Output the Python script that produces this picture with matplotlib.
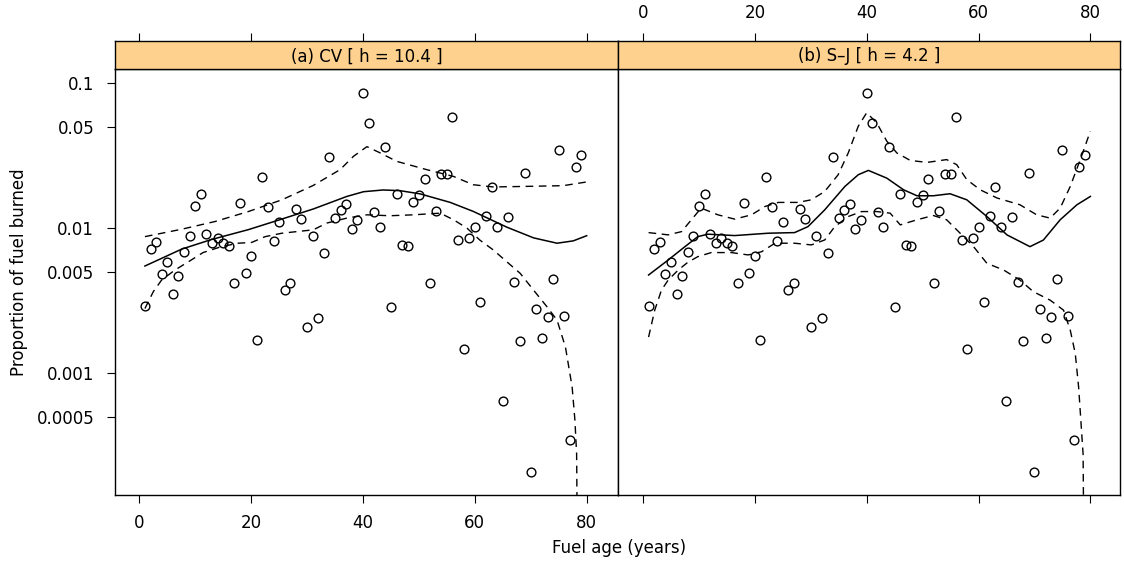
import matplotlib
matplotlib.use("Agg")
import matplotlib.pyplot as plt
import numpy as np

plt.rcParams['font.family'] = ['DejaVu Sans']

# ---- data -------------------------------------------------------------
age = list(range(1, 80))
burned = [0.0029, 0.0072, 0.0080, 0.00484, 0.00586, 0.00354, 0.00467, 0.0069, 0.0089, 0.0142,
          0.0173, 0.0091, 0.0079, 0.0086, 0.0079, 0.0075, 0.0042, 0.0149, 0.0049, 0.0064,
          0.0017, 0.0225, 0.0141, 0.0082, 0.0111, 0.00375, 0.0042, 0.0136, 0.0116, 0.0021,
          0.0089, 0.0024, 0.0068, 0.0311, 0.0118, 0.0134, 0.0148, 0.0099, 0.0115, 0.0853,
          0.0531, 0.0129, 0.0103, 0.0365, 0.00285, 0.0173, 0.0077, 0.0075, 0.0152, 0.0171,
          0.0220, 0.0042, 0.0131, 0.0237, 0.0237, 0.0585, 0.0083, 0.00148, 0.0086, 0.0102,
          0.0031, 0.0121, 0.0192, 0.0102, 0.00064, 0.0119, 0.0043, 0.00167, 0.0240, 0.00021,
          0.00276, 0.00176, 0.00246, 0.00445, 0.0346, 0.00249, 0.00035, 0.0266, 0.0319]

# (a) CV fit
cv_fit_x = [1, 7.6, 13, 19.5, 25.2, 31.1, 37.1, 40.1, 43.6, 46.6, 50.2, 55.6, 59.7, 65.7, 70.5, 74.7, 77.6, 80]
cv_fit_y = [0.0055, 0.0072, 0.0084, 0.0098, 0.0115, 0.0136, 0.0166, 0.0179, 0.0184, 0.0182,
            0.0173, 0.0151, 0.0131, 0.0102, 0.0086, 0.0079, 0.0082, 0.0089]
cv_up_x = [1, 7.6, 13.5, 19.5, 25.5, 31.1, 35.9, 38.3, 40.7, 43.1, 46.0, 51.4, 56.2, 59.7, 63.3, 68.7, 75.8, 80]
cv_up_y = [0.00877, 0.00987, 0.01114, 0.01306, 0.01574, 0.01977, 0.0254, 0.0314, 0.0366, 0.0331,
           0.0290, 0.0254, 0.0228, 0.0200, 0.0193, 0.01946, 0.0197, 0.0209]
cv_lo_x = [1, 2.5, 4.0, 6.4, 9.1, 11.4, 14.7, 17.7, 20.1, 22.5, 25.5, 31.1, 33.5, 37.1, 40.7, 44.8,
           49.0, 53.8, 56.2, 58.6, 60.9, 63.3, 65.7, 68.1, 70.5, 72.9, 74.7, 76.2, 77.4, 77.9, 78.2, 78.5]
cv_lo_y = [0.0028, 0.00366, 0.00441, 0.00517, 0.00599, 0.00681, 0.00749, 0.0079, 0.0080, 0.00877,
           0.00926, 0.00977, 0.01087, 0.01177, 0.0124, 0.01222, 0.0124, 0.01273, 0.01146, 0.01003,
           0.0083, 0.0071, 0.00589, 0.0049, 0.00375, 0.00288, 0.00233, 0.00152, 0.000804, 0.000473,
           0.000278, 0.00001]

# (b) S-J fit
sj_fit_x = [1.0, 4.5, 7.5, 9.8, 11.6, 16.4, 22.4, 27.1, 29.5, 32.5, 36.1, 38.5, 40.3, 43.6, 46.6,
            49.0, 51.9, 54.9, 57.9, 61.5, 65.1, 69.2, 71.6, 74.6, 77.6, 80.0]
sj_fit_y = [0.00477, 0.00605, 0.00748, 0.00877, 0.00912, 0.00892, 0.00926, 0.00935, 0.01028, 0.01342,
            0.01945, 0.02344, 0.0251, 0.0222, 0.01845, 0.01678, 0.01678, 0.01733, 0.01574, 0.01207,
            0.00901, 0.00748, 0.00831, 0.01146, 0.01455, 0.0166]
sj_up_x = [1.0, 4.5, 6.9, 8.9, 10.4, 13.4, 16.4, 19.4, 21.8, 24.2, 27.7, 30.1, 32.5, 34.9, 36.7, 38.5,
           40.0, 41.8, 43.6, 45.4, 47.8, 50.8, 54.3, 56.1, 57.9, 60.3, 63.3, 67.4, 70.4, 72.8, 74.6,
           76.4, 78.2, 80.0]
sj_up_y = [0.00935, 0.00902, 0.0095, 0.01177, 0.0138, 0.0124, 0.01158, 0.0124, 0.01415, 0.0151,
           0.0151, 0.01574, 0.01797, 0.02344, 0.0331, 0.0507, 0.0627, 0.0534, 0.0399, 0.0331,
           0.0294, 0.0285, 0.0298, 0.0275, 0.0217, 0.01845, 0.0162, 0.01455, 0.0124, 0.01177,
           0.0138, 0.01945, 0.0298, 0.0468]
sj_lo_x = [1.0, 2.1, 3.3, 4.5, 6.3, 8.0, 9.8, 12.2, 15.8, 18.8, 21.2, 23.6, 27.1, 30.1, 32.5, 34.3,
           36.7, 39.1, 41.8, 44.2, 46.0, 49.0, 51.9, 54.3, 56.7, 59.1, 61.5, 64.5, 67.4, 69.8, 72.8,
           75.2, 76.4, 77.3, 77.9, 78.3, 78.7, 79.0]
sj_lo_y = [0.00178, 0.00273, 0.00375, 0.0044, 0.00516, 0.00583, 0.00638, 0.00681, 0.00681, 0.00656,
           0.0069, 0.0079, 0.0079, 0.00769, 0.00832, 0.01028, 0.01207, 0.01306, 0.01306, 0.01273,
           0.01057, 0.01146, 0.01227, 0.01146, 0.00927, 0.00749, 0.00574, 0.00516, 0.0044, 0.00366,
           0.0032, 0.00273, 0.00199, 0.00137, 0.000804, 0.000473, 0.000278, 0.00001]

titles = ["(a) CV [ h = 10.4 ]", "(b) S\u2013J [ h = 4.2 ]"]
x_ticks = [0, 20, 40, 60, 80]
y_ticks = [0.0005, 0.001, 0.005, 0.01, 0.05, 0.1]
y_ticklabels = ["0.0005", "0.001", "0.005", "0.01", "0.05", "0.1"]

# ---- layout -----------------------------------------------------------
W, H = 1124, 565
fig = plt.figure(figsize=(W / 100, H / 100), dpi=100)

def rect(x0, y0, x1, y1):
    return [x0 / W, 1 - y1 / H, (x1 - x0) / W, (y1 - y0) / H]

panels = [(115, 618), (618, 1120)]
fits = [(cv_fit_x, cv_fit_y, cv_up_x, cv_up_y, cv_lo_x, cv_lo_y),
        (sj_fit_x, sj_fit_y, sj_up_x, sj_up_y, sj_lo_x, sj_lo_y)]
xlims = [(-4.35, 85.6), (-4.47, 85.3)]
ylim = (0.000145, 0.1256)
fs = 12
strip_col = '#FFD18F'

for i, ((x0, x1), f) in enumerate(zip(panels, fits)):
    ax = fig.add_axes(rect(x0, 69, x1, 495))
    ax.set_yscale('log')
    ax.set_xlim(*xlims[i])
    ax.set_ylim(*ylim)
    ax.plot(age, burned, 'o', ms=6.3, mfc='none', mec='black', mew=1.0, zorder=3)
    fx, fy, ux, uy, lx, ly = f
    ax.plot(fx, fy, '-', color='black', lw=1.1)
    l1, = ax.plot(ux, uy, color='black', lw=1.0)
    l2, = ax.plot(lx, ly, color='black', lw=1.0)
    for l in (l1, l2):
        l.set_dashes([5.5, 4])
    ax.minorticks_off()
    ax.set_xticks(x_ticks)
    ax.tick_params(axis='x', direction='out', length=6, width=0.8, pad=8,
                   labelsize=fs, bottom=True, top=False, labelbottom=(i == 0))
    if i == 0:
        ax.set_yticks(y_ticks)
        ax.set_yticklabels(y_ticklabels)
        ax.tick_params(axis='y', direction='out', length=6, width=0.8, pad=9, labelsize=fs)
    else:
        ax.set_yticks([])
    for s in ax.spines.values():
        s.set_linewidth(1.0)

    # strip
    sx = fig.add_axes(rect(x0, 41, x1, 69))
    sx.set_facecolor(strip_col)
    sx.set_xlim(*xlims[i])
    sx.set_ylim(0, 1)
    sx.set_yticks([])
    sx.set_xticks(x_ticks)
    sx.xaxis.set_ticks_position('top')
    sx.tick_params(axis='x', direction='out', length=6, width=0.8, pad=8,
                   labelsize=fs, top=True, bottom=False, labeltop=(i == 1), labelbottom=False)
    sx.text(0.5, 0.45, titles[i], transform=sx.transAxes, ha='center', va='center', fontsize=fs)
    for s in sx.spines.values():
        s.set_linewidth(1.0)

fig.text(19.5 / W, 1 - 272 / H, "Proportion of fuel burned", rotation=90,
         ha='center', va='center', fontsize=fs)
fig.text(619 / W, 1 - 548 / H, "Fuel age (years)", ha='center', va='center', fontsize=fs)

fig.savefig("out.png", dpi=100)
